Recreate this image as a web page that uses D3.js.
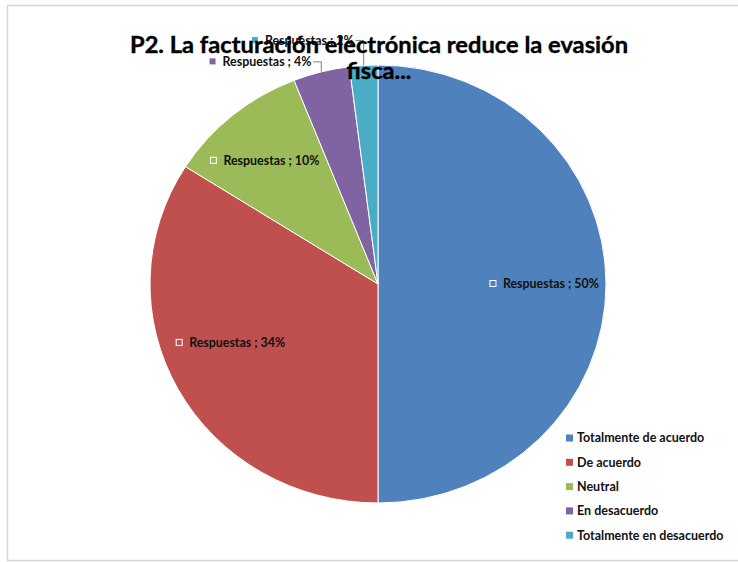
<!DOCTYPE html>
<html>
<head>
<meta charset="utf-8">
<script src="https://cdn.jsdelivr.net/npm/d3@7"></script>
<style>
  html, body { margin: 0; padding: 0; background: #ffffff; }
  svg { display: block; }
</style>
</head>
<body>
<svg id="chart" width="738" height="562"></svg>
<script>
// ---- data ----
const categories = ["Totalmente de acuerdo", "De acuerdo", "Neutral", "En desacuerdo", "Totalmente en desacuerdo"];
const values = [50, 34, 10, 4, 2];
const seriesName = "Respuestas";
const titleLines = ["P2. La facturación electrónica reduce la evasión", "fisca..."];
const colors = ["#4F81BD", "#C0504D", "#9BBB59", "#8064A2", "#4BACC6"];

// ---- layout ----
const W = 738, H = 562;
const cx = 378, cy = 284, rx = 228, ry = 219;
const font = "Lato, 'Open Sans', sans-serif";
// label placement: inside (factor of radius, angle nudge in degrees) or outside (rise above the edge)
const labelMode = ["in", "in", "in", "out", "out"];
const labelRadius = [0.73, 0.70, 0.75, 1, 1];
const labelNudgeDeg = [0, 6.2, -1.8, 0, 0];
const outsideRise = [0, 0, 0, 6, 21];

const svg = d3.select("#chart");

// frame
svg.append("rect").attr("x", 7.5).attr("y", 5.5).attr("width", W).attr("height", H - 7)
  .attr("fill", "#ffffff").attr("stroke", "#d4d4d4").attr("stroke-width", 1.5);

const pie = d3.pie().sort(null).value(d => d)(values);
const arc = d3.arc().innerRadius(0).outerRadius(rx);
const pieG = svg.append("g").attr("transform", `translate(${cx},${cy}) scale(1,${ry / rx})`);

pieG.selectAll("path").data(pie).join("path")
  .attr("d", arc)
  .attr("fill", (d, i) => colors[i])
  .attr("stroke", "#ffffff")
  .attr("stroke-width", 1)
  .attr("vector-effect", "non-scaling-stroke");

const fmt = d => `${seriesName} ; ${d}%`;
const toScreen = (a, r) => [cx + r * Math.sin(a), cy - r * (ry / rx) * Math.cos(a)];

const labelsG = svg.append("g");
pie.forEach((d, i) => {
  const mid = (d.startAngle + d.endAngle) / 2 + labelNudgeDeg[i] * Math.PI / 180;
  const g = labelsG.append("g");
  const t = g.append("text").text(fmt(values[i]))
    .attr("font-family", font).attr("font-weight", "bold")
    .attr("font-size", 12.4).attr("fill", "#111");
  const tw = t.node().getComputedTextLength();
  const markerSize = 6, gap = 7;
  const total = markerSize + gap + tw;
  let x0, y0;
  if (labelMode[i] === "in") {
    const [px, py] = toScreen(mid, rx * labelRadius[i]);
    x0 = px - total / 2; y0 = py;
    g.append("rect").attr("x", x0).attr("y", y0 - markerSize / 2 - 0.5)
      .attr("width", markerSize).attr("height", markerSize)
      .attr("fill", colors[i]).attr("stroke", "#ffffff").attr("stroke-width", 1);
  } else {
    const [ex, ey] = toScreen(mid, rx);
    const ly = ey - outsideRise[i] - 4;
    const xEnd = ex - 2;
    x0 = xEnd - 8 - total; y0 = ly;
    g.append("rect").attr("x", x0).attr("y", y0 - markerSize / 2 - 0.5)
      .attr("width", markerSize).attr("height", markerSize)
      .attr("fill", colors[i]);
    g.append("path")
      .attr("d", `M${xEnd - 6},${ly} H${ex} V${ey}`)
      .attr("fill", "none").attr("stroke", "#7f7f7f").attr("stroke-width", 1);
  }
  t.attr("x", x0 + markerSize + gap).attr("y", y0).attr("dy", "0.35em");
});

// title
const title = svg.append("text").attr("font-family", font).attr("font-weight", "bold")
  .attr("font-size", 23.7).attr("fill", "#000").attr("stroke", "#000").attr("stroke-width", 0.4)
  .attr("text-anchor", "middle");
title.append("tspan").attr("x", 379).attr("y", 53).text(titleLines[0]);
title.append("tspan").attr("x", 379).attr("y", 79).text(titleLines[1]);

// legend
const legend = svg.append("g").attr("transform", "translate(566,438)");
categories.forEach((c, i) => {
  const row = legend.append("g").attr("transform", `translate(0,${i * 24.3})`);
  row.append("rect").attr("x", 0).attr("y", -3.5).attr("width", 7).attr("height", 7).attr("fill", colors[i]);
  row.append("text").attr("x", 11).attr("y", 0).attr("dy", "0.35em")
    .attr("font-family", font).attr("font-weight", "bold").attr("font-size", 12.5)
    .attr("fill", "#111").text(c);
});
</script>
</body>
</html>
